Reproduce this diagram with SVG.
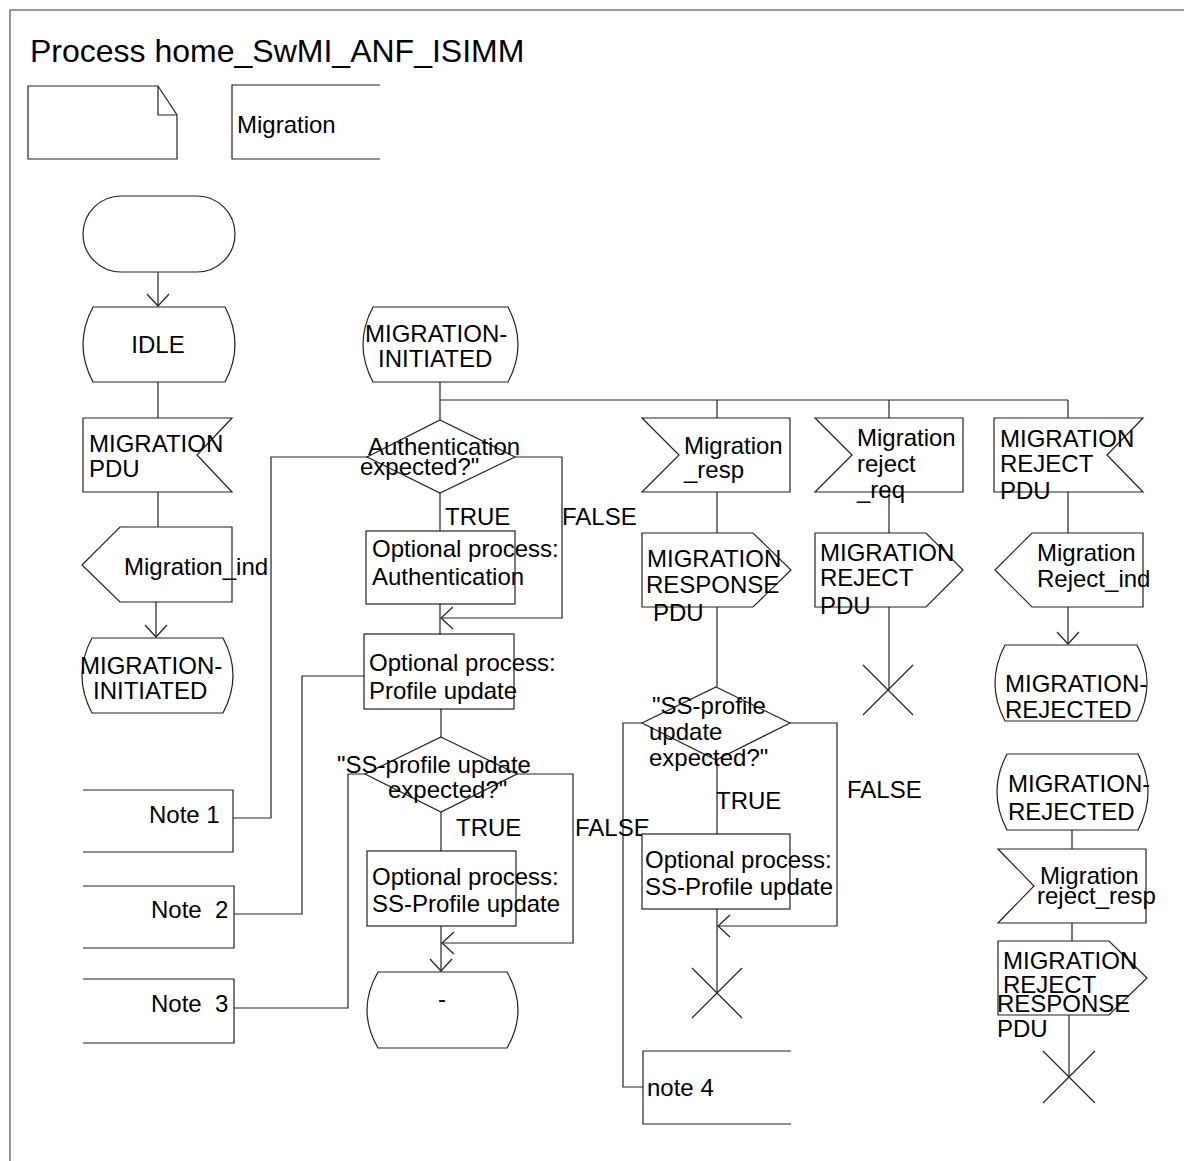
<svg xmlns="http://www.w3.org/2000/svg" width="1184" height="1161" viewBox="0 0 1184 1161">
<style>
text{font-family:"Liberation Sans",Arial,sans-serif;font-size:24px;fill:#000}
.t{font-size:32px}
.s{fill:#fff;stroke:#222;stroke-width:1.2}
.o{fill:none;stroke:#222;stroke-width:1.2}
.c{fill:none;stroke:#222;stroke-width:1.2}
.frame{fill:none;stroke:#777;stroke-width:1.5}
</style>
<defs>
<marker id="arr" markerUnits="userSpaceOnUse" viewBox="-14 -12 16 24" markerWidth="16" markerHeight="24" refX="0" refY="0" orient="auto">
<path d="M-12,-11 L0,0 L-12,11" fill="none" stroke="#222" stroke-width="1.2"/>
</marker>
</defs>
<rect width="1184" height="1161" fill="#fff"/>
<path class="frame" d="M10,1161 V10 H1184"/>
<text class="t" x="30" y="62">Process home_SwMI_ANF_ISIMM</text>

<g id="connectors">
<path class="c" d="M158,272 V306" marker-end="url(#arr)"/>
<path class="c" d="M158,382 V418"/>
<path class="c" d="M158,492 V527"/>
<path class="c" d="M156,602 V637" marker-end="url(#arr)"/>
<path class="c" d="M440,382 V420"/>
<path class="c" d="M440,400 H1068"/>
<path class="c" d="M717,400 V418"/>
<path class="c" d="M889,400 V418"/>
<path class="c" d="M1068,400 V418"/>
<path class="c" d="M440,493 V531"/>
<path class="c" d="M515,457 H562 V618 H441" marker-end="url(#arr)"/>
<path class="c" d="M440,604 V634"/>
<path class="c" d="M441,709 V737"/>
<path class="c" d="M441,812 V851"/>
<path class="c" d="M517,774 H573 V943 H442" marker-end="url(#arr)"/>
<path class="c" d="M441,926 V971" marker-end="url(#arr)"/>
<path class="c" d="M367,457 H271 V818 H233"/>
<path class="c" d="M364,676 H302 V914 H234"/>
<path class="c" d="M365,774 H348 V1008 H234"/>
<path class="c" d="M717,492 V533"/>
<path class="c" d="M717,607 V687"/>
<path class="c" d="M717,760 V834"/>
<path class="c" d="M790,723 H837 V926 H718" marker-end="url(#arr)"/>
<path class="c" d="M717,909 V993"/>
<path class="c" d="M642,723 H623 V1087 H643"/>
<path class="c" d="M889,492 V533"/>
<path class="c" d="M889,607 V690"/>
<path class="c" d="M1068,492 V533"/>
<path class="c" d="M1068,607 V644" marker-end="url(#arr)"/>
<path class="c" d="M1072,830 V849"/>
<path class="c" d="M1072,923 V941"/>
<path class="c" d="M1069,1015 V1077"/>
</g>

<g id="text_symbol">
<path class="s" d="M28,86 H158 L177,115 V159 H28 Z"/>
<path class="o" d="M158,86 V115 H177"/>
</g>
<g id="migration_ext">
<path class="o" d="M380,85 H232 V159 H380"/>
<text x="237" y="133">Migration</text>
</g>

<g id="start">
<rect class="s" x="83" y="196" width="152" height="76" rx="38" ry="38"/>
</g>
<g id="idle">
<path class="s" d="M93,307 H225 Q245,344.5 225,382 H93 Q73,344.5 93,307 Z"/>
<text x="158" y="353" text-anchor="middle">IDLE</text>
</g>
<g id="migration_pdu_in">
<path class="s" d="M83,418 H232 L197,455 L232,492 H83 Z"/>
<text x="89" y="452">MIGRATION</text>
<text x="89" y="477">PDU</text>
</g>
<g id="migration_ind">
<path class="s" d="M120,527 H232 V602 H120 L82,565 Z"/>
<text x="124" y="575">Migration_ind</text>
</g>
<g id="mig_init_1">
<path class="s" d="M92,638 H223 Q243,675.5 223,713 H92 Q72,675.5 92,638 Z"/>
<text x="80" y="674">MIGRATION-</text>
<text x="93" y="699">INITIATED</text>
</g>

<g id="note1">
<path class="o" d="M83,790 H233 V852 H83"/>
<text x="149" y="823">Note 1</text>
</g>
<g id="note2">
<path class="o" d="M83,886 H234 V948 H83"/>
<text x="151" y="918" xml:space="preserve">Note  2</text>
</g>
<g id="note3">
<path class="o" d="M83,979 H234 V1043 H83"/>
<text x="151" y="1012" xml:space="preserve">Note  3</text>
</g>

<g id="mig_init_2">
<path class="s" d="M373,307 H508 Q528,344.5 508,382 H373 Q353,344.5 373,307 Z"/>
<text x="365" y="342">MIGRATION-</text>
<text x="378" y="367">INITIATED</text>
</g>
<g id="auth_decision">
<path class="s" d="M440,420 L515,457 L440,493 L367,457 Z"/>
<text x="368" y="455">Authentication</text>
<text x="360" y="475">expected?"</text>
<text x="445" y="525">TRUE</text>
<text x="562" y="525">FALSE</text>
</g>
<g id="auth_proc">
<rect class="s" x="366" y="531" width="149" height="73"/>
<text x="372" y="557">Optional process:</text>
<text x="372" y="585">Authentication</text>
</g>
<g id="profile_proc">
<rect class="s" x="364" y="634" width="150" height="75"/>
<text x="369" y="671">Optional process:</text>
<text x="369" y="699">Profile update</text>
</g>
<g id="ss_decision">
<path class="s" d="M441,737 L517,774 L441,812 L365,774 Z"/>
<text x="337" y="773">"SS-profile update</text>
<text x="388" y="798">expected?"</text>
<text x="456" y="836">TRUE</text>
<text x="575" y="836">FALSE</text>
</g>
<g id="ss_proc">
<rect class="s" x="367" y="851" width="149" height="75"/>
<text x="372" y="885">Optional process:</text>
<text x="372" y="912">SS-Profile update</text>
</g>
<g id="dash_state">
<path class="s" d="M378,972 H507 Q529,1010 507,1048 H378 Q356,1010 378,972 Z"/>
<text x="442" y="1007" text-anchor="middle">-</text>
</g>

<g id="migration_resp">
<path class="s" d="M642,418 H790 V492 H642 L679,455 Z"/>
<text x="684" y="454">Migration</text>
<text x="684" y="478">_resp</text>
</g>
<g id="migration_response_pdu">
<path class="s" d="M642,533 H753 L791,570 L753,607 H642 Z"/>
<text x="647" y="567">MIGRATION</text>
<text x="646" y="593">RESPONSE</text>
<text x="653" y="621">PDU</text>
</g>
<g id="ss_decision_2">
<path class="s" d="M716,687 L790,723 L716,760 L642,723 Z"/>
<text x="652" y="714">"SS-profile</text>
<text x="649" y="740">update</text>
<text x="649" y="766">expected?"</text>
<text x="716" y="809">TRUE</text>
<text x="847" y="798">FALSE</text>
</g>
<g id="ss_proc_2">
<rect class="s" x="642" y="834" width="148" height="75"/>
<text x="645" y="868">Optional process:</text>
<text x="645" y="895">SS-Profile update</text>
</g>
<g id="stop_1">
<path class="o" d="M692,968 L742,1018 M742,968 L692,1018"/>
</g>
<g id="note4">
<path class="o" d="M791,1051 H643 V1124 H791"/>
<text x="647" y="1096">note 4</text>
</g>

<g id="migration_reject_req">
<path class="s" d="M815,418 H963 V492 H815 L852,455 Z"/>
<text x="857" y="446">Migration</text>
<text x="857" y="472">reject</text>
<text x="857" y="498">_req</text>
</g>
<g id="migration_reject_pdu_out">
<path class="s" d="M815,533 H926 L963,570 L926,607 H815 Z"/>
<text x="820" y="561">MIGRATION</text>
<text x="820" y="586">REJECT</text>
<text x="820" y="614">PDU</text>
</g>
<g id="stop_2">
<path class="o" d="M863,665 L913,715 M913,665 L863,715"/>
</g>

<g id="migration_reject_pdu_in">
<path class="s" d="M994,418 H1143 L1107,455 L1143,492 H994 Z"/>
<text x="1000" y="447">MIGRATION</text>
<text x="1000" y="472">REJECT</text>
<text x="1000" y="499">PDU</text>
</g>
<g id="migration_reject_ind">
<path class="s" d="M1032,533 H1143 V607 H1032 L995,570 Z"/>
<text x="1037" y="561">Migration</text>
<text x="1037" y="587">Reject_ind</text>
</g>
<g id="mig_rejected_1">
<path class="s" d="M1005,645 H1137 Q1157,683 1137,721 H1005 Q985,683 1005,645 Z"/>
<text x="1005" y="692">MIGRATION-</text>
<text x="1005" y="718">REJECTED</text>
</g>
<g id="mig_rejected_2">
<path class="s" d="M1007,754 H1138 Q1158,792 1138,830 H1007 Q987,792 1007,754 Z"/>
<text x="1008" y="792">MIGRATION-</text>
<text x="1008" y="820">REJECTED</text>
</g>
<g id="migration_reject_resp">
<path class="s" d="M998,849 H1146 V923 H998 L1034,886 Z"/>
<text x="1040" y="884">Migration</text>
<text x="1037" y="904">reject_resp</text>
</g>
<g id="migration_reject_response_pdu">
<path class="s" d="M998,941 H1109 L1147,978 L1109,1015 H998 Z"/>
<text x="1003" y="969">MIGRATION</text>
<text x="1003" y="993">REJECT</text>
<text x="997" y="1012">RESPONSE</text>
<text x="997" y="1037">PDU</text>
</g>
<g id="stop_3">
<path class="o" d="M1043,1051 L1095,1103 M1095,1051 L1043,1103"/>
</g>
</svg>
